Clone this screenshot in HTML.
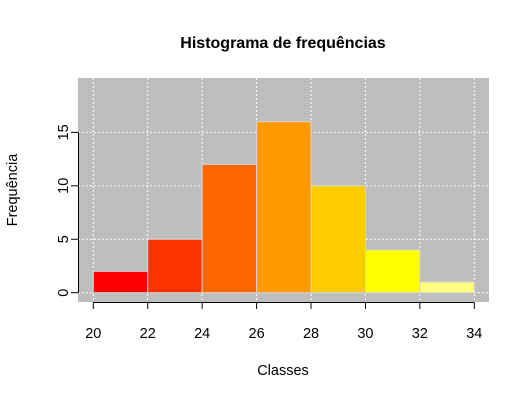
<!DOCTYPE html>
<html><head><meta charset="utf-8"><style>
body{margin:0;background:#fff;}
svg{display:block;font-family:"Liberation Sans",Arial,sans-serif;}
</style></head><body>
<svg id="c" width="530" height="400">
<text x="283" y="48" text-anchor="middle" font-size="16" font-weight="bold">Histograma de frequências</text>
<rect x="78" y="78" width="411" height="224" fill="#bebebe"/>
<g id="grid"></g><g id="bars"></g><g id="axes"></g>
<text x="283" y="375" text-anchor="middle" font-size="14.5">Classes</text>
<text transform="translate(17,190) rotate(-90)" text-anchor="middle" font-size="14.5">Frequência</text>
</svg>
<script>
const breaks=[20,22,24,26,28,30,32,34];
const counts=[2,5,12,16,10,4,1];
const colors=["#ff0000","#ff3300","#ff6600","#ff9900","#ffcc00","#ffff00","#ffff80"];
const yTicks=[0,5,10,15];
const xTicks=[20,22,24,26,28,30,32,34];
const NS="http://www.w3.org/2000/svg";
const xs=v=>93.3+(v-20)*(474.3-93.3)/14;
const ys=v=>292.7-v*10.69;
function mk(t,a,p){const e=document.createElementNS(NS,t);for(const k in a)e.setAttribute(k,a[k]);p.appendChild(e);return e;}
const g=document.getElementById('grid'),b=document.getElementById('bars'),ax=document.getElementById('axes');
xTicks.forEach(v=>{const l=mk('line',{x1:xs(v),x2:xs(v),y1:78,y2:302,stroke:'#fff','stroke-dasharray':'2,2'},g);

});
yTicks.forEach(v=>{const l=mk('line',{x1:78,x2:489,y1:ys(v),y2:ys(v),stroke:'#fff','stroke-dasharray':'2,2'},g);

});
counts.forEach((c,i)=>{const r=mk('rect',{x:xs(breaks[i]),y:ys(c),width:xs(breaks[i+1])-xs(breaks[i]),height:ys(0)-ys(c),fill:colors[i],stroke:'#d3d3d3','stroke-width':1},b);

});
mk('line',{x1:xs(20),x2:xs(34),y1:302.5,y2:302.5,stroke:'#000'},ax);
xTicks.forEach(v=>{mk('line',{x1:xs(v),x2:xs(v),y1:302.5,y2:309,stroke:'#000'},ax);
const t=mk('text',{x:xs(v),y:338,'text-anchor':'middle','font-size':14.5},ax);t.textContent=v;

});
mk('line',{x1:78.5,x2:78.5,y1:ys(15),y2:ys(0),stroke:'#000'},ax);
yTicks.forEach(v=>{mk('line',{x1:71,x2:78.5,y1:ys(v),y2:ys(v),stroke:'#000'},ax);
const t=mk('text',{transform:`translate(68,${ys(v)}) rotate(-90)`,'text-anchor':'middle','font-size':14.5},ax);t.textContent=v;

});
</script>
</body></html>
